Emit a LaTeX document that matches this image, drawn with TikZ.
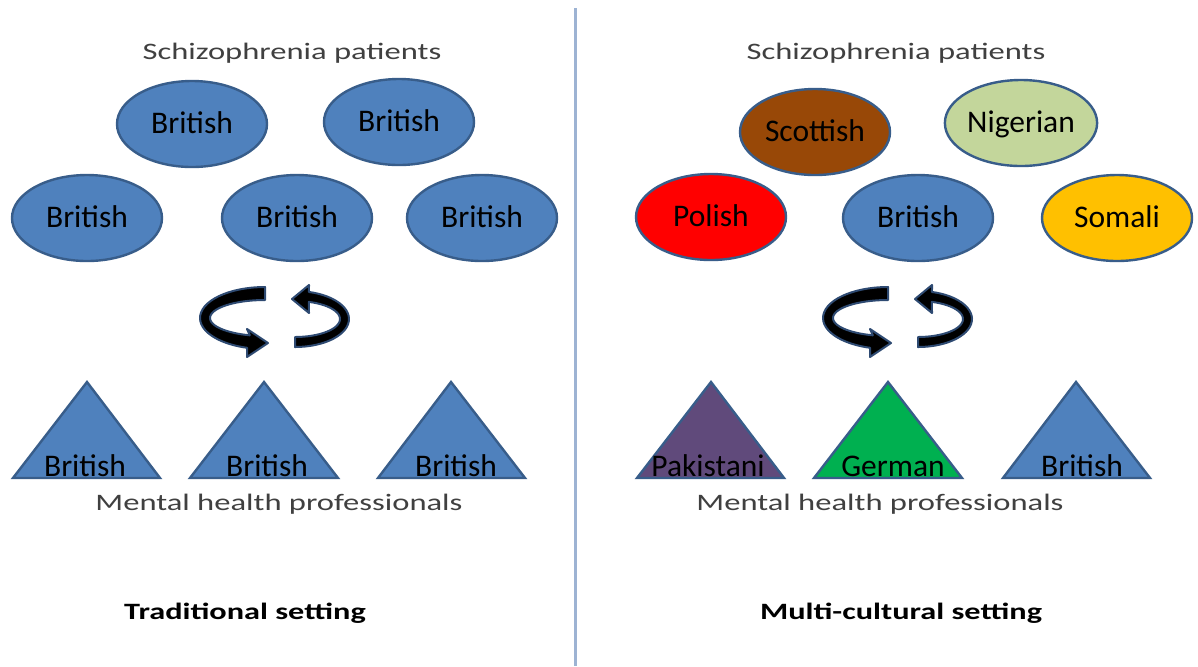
\documentclass[tikz,border=0pt]{standalone}
\usepackage{fontspec}
\setmainfont{Carlito}
\usepackage{graphicx}
\usetikzlibrary{shapes.geometric}
\definecolor{ofblue}{HTML}{4F81BD}
\definecolor{ofedge}{HTML}{385D8A}
\definecolor{scotc}{HTML}{984807}
\definecolor{nigc}{HTML}{C3D69B}
\definecolor{polc}{HTML}{FF0000}
\definecolor{somc}{HTML}{FFC000}
\definecolor{pakc}{HTML}{604A7B}
\definecolor{gerc}{HTML}{00B050}
\definecolor{labgray}{HTML}{404040}
\definecolor{divc}{HTML}{9DB3D3}
\definecolor{arredge}{HTML}{2E4A72}
\tikzset{
  pat/.style={ellipse, draw=ofedge, line width=1.2pt, fill=ofblue,
    minimum width=75pt, minimum height=43pt, inner sep=0pt,
    font=\fontsize{15.75}{18}\selectfont, text height=9pt, text depth=0pt},
  prof/.style={draw=ofedge, line width=1.2pt, fill=ofblue, line join=miter},
  proflab/.style={anchor=base, inner sep=0pt, font=\fontsize{15.75}{18}\selectfont},
  grouplab/.style={anchor=base, inner sep=0pt, text=labgray, font=\fontsize{11.8}{14}\selectfont},
  setlab/.style={anchor=base, inner sep=0pt, font=\fontsize{11.7}{14}\selectfont\bfseries},
  cyc/.style={fill=black, draw=arredge, line width=1pt, line join=round}
}
\newcommand\mycycle{%
  \path[cyc] (265,287)
    -- plot[smooth, domain=-90:-254, samples=30, variable=\t] ({265+65*cos(\t)},{318+31*sin(\t)})
    -- (247,357) -- (268,343) -- (247,329)
    -- plot[smooth, domain=-254:-90, samples=30, variable=\t] ({265+55*cos(\t)},{318+18*sin(\t)})
    -- cycle;
  \path[cyc] (295,347)
    -- plot[smooth, domain=90:-75, samples=30, variable=\t] ({295+54*cos(\t)},{319+28*sin(\t)})
    -- (309,285) -- (292,299) -- (309,313)
    -- plot[smooth, domain=-72:90, samples=30, variable=\t] ({295+45*cos(\t)},{319+18*sin(\t)})
    -- cycle;
}
\begin{document}
\begin{tikzpicture}[x=0.5pt,y=-0.5pt]
\useasboundingbox[fill=white] (0,0) rectangle (1198,666);

% divider
\coordinate (dtop) at (575.5,8);
\coordinate (dbot) at (575.5,666);
\draw[divc, line width=1.1pt] (dtop) -- (dbot);

% ---------- left panel ----------
\node[grouplab] (lsch) at (292,59) {\scalebox{1.38}[1]{Schizophrenia patients}};
\node[pat] (l1) at (192,124) {British};
\node[pat] (l2) at (399,122) {British};
\node[pat] (l3) at (87,218) {British};
\node[pat] (l4) at (297,218) {British};
\node[pat] (l5) at (482,218) {British};

\mycycle

\draw[prof] (13,478) -- (87,382) -- (160,478) -- cycle;
\draw[prof] (190,478) -- (264,382) -- (338,478) -- cycle;
\draw[prof] (378,478) -- (451,382) -- (525,478) -- cycle;
\node[proflab] (lt1) at (85,476) {British};
\node[proflab] (lt2) at (267,476) {British};
\node[proflab] (lt3) at (456,476) {British};
\node[grouplab] (lmh) at (279,510) {\scalebox{1.38}[1]{Mental health professionals}};
\node[setlab] (lset) at (245,619) {\scalebox{1.38}[1]{Traditional setting}};

% ---------- right panel ----------
\node[grouplab] (rsch) at (896,59) {\scalebox{1.38}[1]{Schizophrenia patients}};
\node[pat, fill=scotc] (r1) at (815,132) {Scottish};
\node[pat, fill=nigc] (r2) at (1021,123) {Nigerian};
\node[pat, fill=polc] (r3) at (711,217) {Polish};
\node[pat] (r4) at (918,218) {British};
\node[pat, fill=somc] (r5) at (1117,218) {Somali};

\begin{scope}[shift={(623,0)}]
\mycycle
\end{scope}

\draw[prof, fill=pakc] (637,478) -- (711,382) -- (784,478) -- cycle;
\draw[prof, fill=gerc] (814,478) -- (888,382) -- (962,478) -- cycle;
\draw[prof] (1003,478) -- (1076,382) -- (1150,478) -- cycle;
\node[proflab] (rt1) at (708,476) {Pakistani};
\node[proflab] (rt2) at (893,476) {German};
\node[proflab] (rt3) at (1082,476) {British};
\node[grouplab] (rmh) at (880,510) {\scalebox{1.38}[1]{Mental health professionals}};
\node[setlab] (rset) at (901,619) {\scalebox{1.38}[1]{Multi-cultural setting}};
\end{tikzpicture}
\end{document}
